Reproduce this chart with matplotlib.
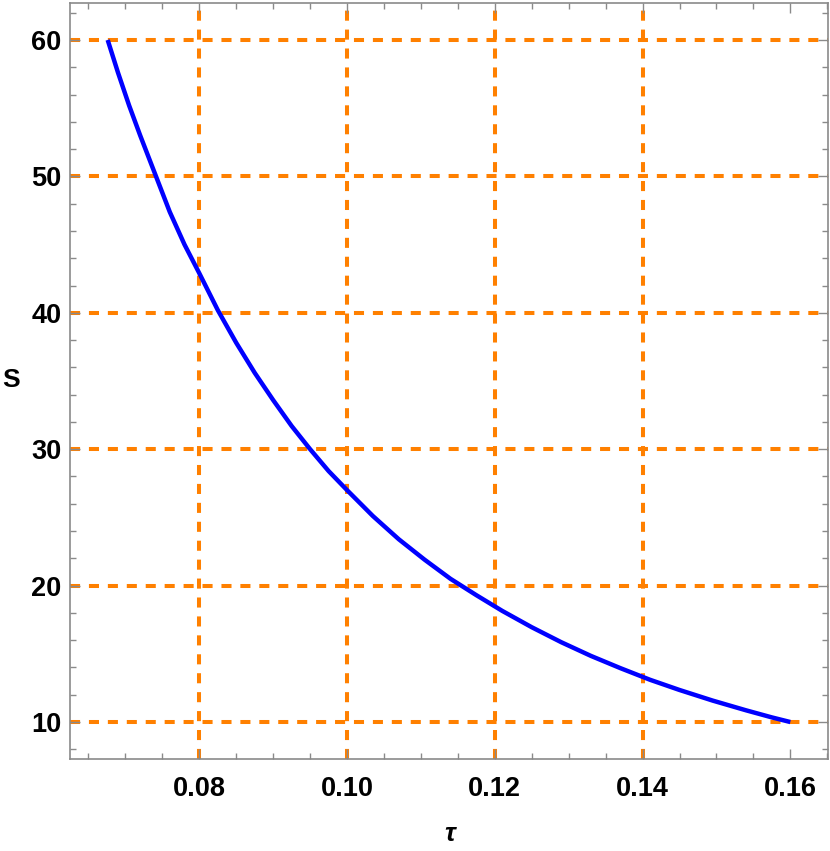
import matplotlib
matplotlib.use("Agg")
import matplotlib.pyplot as plt
from matplotlib.ticker import MultipleLocator, FixedLocator

plt.rcParams['font.family'] = ['Liberation Sans', 'DejaVu Sans']

tau = [0.0676, 0.0690, 0.0705, 0.0720, 0.0740, 0.0760, 0.0780, 0.0800,
       0.0825, 0.0850, 0.0875, 0.0900, 0.0925, 0.0950, 0.0975, 0.1000,
       0.1035, 0.1070, 0.1105, 0.1140, 0.1175, 0.1210, 0.1250, 0.1290,
       0.1330, 0.1370, 0.1410, 0.1450, 0.1495, 0.1540, 0.1575, 0.1600]
S = [60.0, 57.6, 55.2, 53.0, 50.2, 47.4, 45.0, 42.9,
     40.2, 37.8, 35.6, 33.6, 31.7, 30.0, 28.4, 27.0,
     25.1, 23.4, 21.9, 20.5, 19.3, 18.15, 16.95, 15.85,
     14.85, 13.95, 13.1, 12.35, 11.57, 10.86, 10.34, 10.0]

x_ticks = [0.08, 0.10, 0.12, 0.14, 0.16]
x_ticklabels = ["0.08", "0.10", "0.12", "0.14", "0.16"]
y_ticks = [10, 20, 30, 40, 50, 60]
x_grid = [0.08, 0.10, 0.12, 0.14]
y_grid = [10, 20, 30, 40, 50, 60]

fig = plt.figure(figsize=(8.30, 8.51), dpi=100)
ax = fig.add_axes([70/830, 1 - 759/851, 758/830, 756/851])

ax.set_xlim(0.0625, 0.1651)
ax.set_ylim(7.29, 62.71)

orange = '#FF8000'
dash = (0, (2.5, 2.2))
for xv in x_grid:
    ax.axvline(xv, color=orange, lw=2.9, linestyle=dash, zorder=1)
for yv in y_grid:
    ax.axhline(yv, color=orange, lw=2.9, linestyle=dash, zorder=1)

ax.plot(tau, S, color='#0000FF', lw=3.2, zorder=3, solid_capstyle='butt',
        solid_joinstyle='round')

ax.xaxis.set_major_locator(FixedLocator(x_ticks))
ax.set_xticklabels(x_ticklabels)
ax.yaxis.set_major_locator(FixedLocator(y_ticks))
ax.xaxis.set_minor_locator(MultipleLocator(0.005))
ax.yaxis.set_minor_locator(MultipleLocator(2))

for sp in ax.spines.values():
    sp.set_color('#8a8a8a')
    sp.set_linewidth(1.2)

ax.tick_params(which='both', direction='in', top=True, right=True,
               color='#8a8a8a', width=1.0)
ax.tick_params(which='major', length=7)
ax.tick_params(which='minor', length=4)
ax.tick_params(axis='x', which='major', pad=12, labelsize=19.5)
ax.tick_params(axis='y', which='major', pad=6, labelsize=19.5)
for lab in ax.get_xticklabels() + ax.get_yticklabels():
    lab.set_fontweight('bold')

fig.text(2/830, 1 - 380/851, 'S', fontsize=19, fontweight='bold',
         ha='left', va='center')
fig.text(450/830, 1 - 834/851, 'τ', fontsize=19, fontweight='bold', style='italic',
         ha='center', va='center')

fig.savefig('out.png', dpi=100)
